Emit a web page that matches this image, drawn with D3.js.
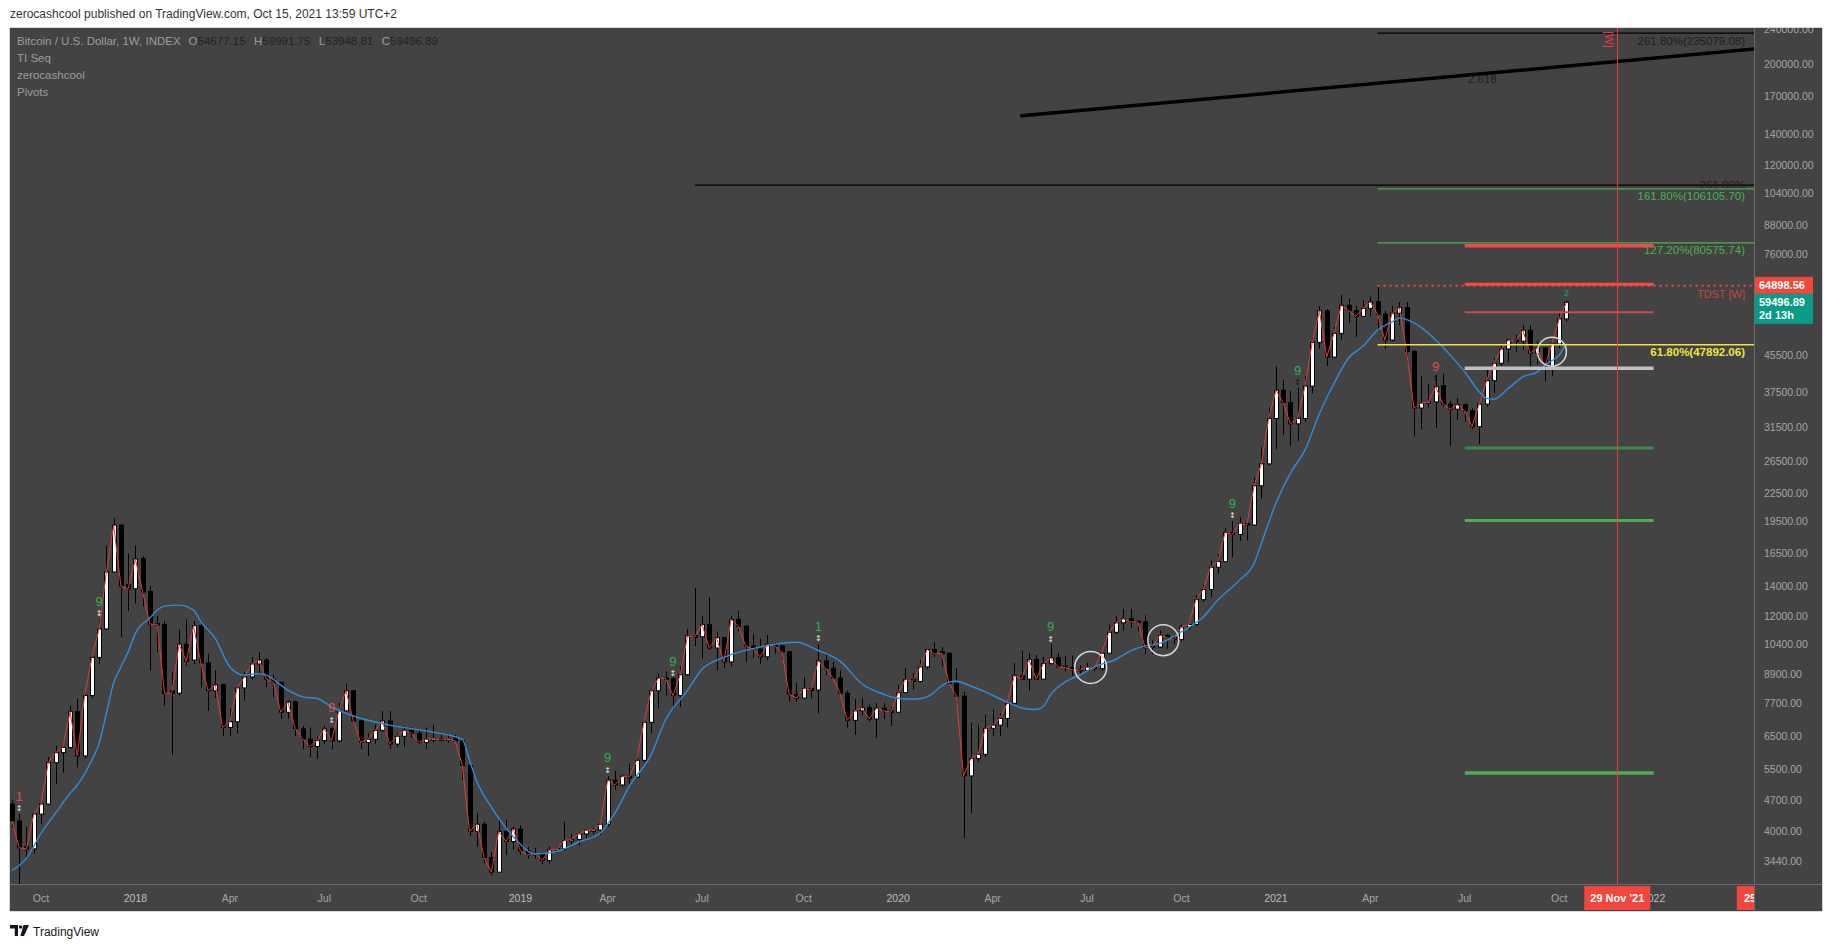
<!DOCTYPE html>
<html><head><meta charset="utf-8">
<script src="https://cdn.jsdelivr.net/npm/d3@7"></script>
<style>html,body{margin:0;padding:0;background:#fff;} svg{display:block;font-family:"Liberation Sans",Arial,sans-serif;}</style>
</head><body><svg id="c" width="1834" height="948"></svg>
<script>
// ---------------- DATA ----------------
const firstBar = "2017-09-04";           // first weekly bar (Monday)
// weekly [open, high, low, close]
const bars2017 = [
[4600,4700,4080,4220],[4220,4380,2980,3680],[3700,4100,3500,3660],[3660,4400,3580,4370],
[4370,4650,4150,4600],[4600,5850,4580,5680],[5680,6200,5100,5980],[5980,6200,5400,6140],
[6140,7600,6100,7370],[7370,7880,5550,5880],[5880,8100,5800,8000],[8000,9800,7900,9720],
[9720,11800,9400,11240],[11240,17200,11200,15030],[15030,19800,15000,19090],[19090,19200,10800,13990],
[14100,16500,12300,13800]];
const bars2018 = [
[13800,17200,12800,16060],[16100,16300,12600,13570],[13600,14000,9100,11520],[11550,12000,10000,11500],
[11500,11700,7600,8100],[8200,9000,5900,8100],[8100,11200,8000,10400],[10400,11800,9300,9540],
[9590,11700,9400,11430],[11430,11700,8320,9450],[9450,9900,7400,8200],[8200,9100,7900,8450],
[8470,8500,6500,6800],[6800,7500,6500,7000],[7000,8400,6600,8320],[8320,9000,7800,8800],
[8800,9750,8650,9400],[9400,9990,8950,9590],[9590,9700,8350,8700],[8700,8900,7950,8560],
[8550,8600,7100,7350],[7350,7800,7100,7740],[7750,7800,6500,6760],[6750,6850,6100,6420],
[6420,6800,5850,6170],[6170,6500,5800,6360],[6360,6850,6250,6750],[6750,6800,6100,6350],
[6350,7700,6300,7400],[7400,8500,7350,8200],[8200,8250,6950,7030],[7030,7150,6100,6300],
[6300,6600,5880,6400],[6400,6900,6250,6700],[6700,7400,6650,7030],[7030,7400,6100,6250],
[6250,6600,6150,6500],[6500,6850,6150,6700],[6700,6800,6450,6600],[6600,6700,6250,6300],
[6300,6800,6100,6400],[6400,6900,6300,6420],[6420,6560,6350,6400],[6400,6550,6280,6420],
[6420,6550,6300,6350],[6350,6400,5200,5600],[5600,5650,3900,4000],[4000,4400,3700,4150],
[4150,4200,3400,3500],[3500,3600,3200,3250],[3250,4250,3250,4000],[4000,4250,3550,3800],
[3800,4100,3650,4050]];
const bars2019 = [
[4050,4130,3550,3620],[3620,3700,3480,3550],[3550,3680,3480,3580],[3580,3600,3380,3450],
[3450,3700,3400,3640],[3640,3700,3580,3660],[3660,4200,3620,3820],[3820,3950,3700,3840],
[3840,3980,3730,3950],[3950,4040,3850,4020],[4020,4080,3950,4030],[4030,4200,3930,4150],
[4150,5300,4100,5200],[5200,5450,4950,5070],[5070,5350,5030,5300],[5300,5650,5050,5280],
[5280,5900,5250,5750],[5750,7050,5700,6980],[6980,8300,6600,8200],[8200,8950,7500,8750],
[8750,9050,8000,8720],[8720,8800,7450,8000],[8000,9300,7550,8900],[8900,11250,8850,10850],
[10850,13850,10300,10800],[10800,12000,9650,11500],[11500,13200,10100,10200],[10200,11100,9100,10750],
[10750,10800,9200,9500],[9500,12000,9300,11800],[11800,12300,11100,11400],[11400,11450,9500,10300],
[10300,10950,9700,10150],[10150,10700,9400,9750],[9750,10900,9600,10400],[10400,10450,9900,10300],
[10300,10350,9600,10000],[10000,10050,7750,8050],[8050,8550,7750,7900],[7900,8800,7850,8300],
[8300,8420,7900,8230],[8230,10400,7300,9550],[9550,9900,8900,9200],[9200,9500,8700,8750],
[8750,9100,8000,8100],[8100,8200,6800,7050],[7050,7850,6550,7400],[7400,7900,7250,7520],
[7520,7650,7000,7100],[7100,7700,6450,7500],[7500,7700,7100,7400],[7400,7550,6850,7350]];
const bars2020 = [
[7350,8450,7350,8120],[8120,9200,8100,8690],[8690,8980,8250,8600],[8600,9600,8550,9260],
[9260,9950,9150,10120],[10120,10500,9750,9900],[10000,10250,9300,9930],[9930,9950,8450,8520],
[8520,9200,7650,7980],[7980,8150,3860,5310],[5310,6950,4390,5800],[5800,6900,5700,5930],
[5930,7250,5850,6770],[6770,7450,6500,6880],[6880,7300,6500,7120],[7120,7750,6800,7690],
[7690,9450,7650,8860],[8860,10050,8650,8700],[8700,9950,8200,9620],[9620,9850,8650,8700],
[8700,9750,8650,9420],[9420,10400,9350,9700],[9700,9950,9200,9260],[9300,9800,9050,9230],
[9230,9800,8850,9120],[9140,9350,8950,9100],[9100,9450,9050,9250],[9250,9300,9050,9180],
[9180,9850,9100,9930],[9930,11500,9900,11050],[11050,12000,10950,11600],[11600,12450,11150,11840],
[11840,12450,11300,11650],[11700,11750,11100,11650],[11650,12050,9900,10210],[10300,10600,9900,10250],
[10250,11150,10200,10880],[10880,10950,10150,10750],[10750,10950,10400,10650],[10650,11500,10550,11350],
[11350,11750,11200,11500],[11500,13350,11400,13050],[13050,14100,12900,13750],[13750,15950,13200,15400],
[15400,16500,14900,15850],[15850,18800,15800,18380],[18380,19500,16200,18200],[18200,19900,17600,19260],
[19260,19400,17650,19100],[19100,24300,19000,23340],[23340,28400,21800,26100],[26100,34800,25900,32900]];
const bars2021 = [
[32900,42900,28100,38000],[38000,40100,30300,35700],[35700,37850,28600,32000],[32000,38500,29300,32900],
[32900,40900,32300,38800],[38800,49700,37400,48500],[48500,58350,47000,57000],[57000,57500,43000,45000],
[45000,52600,44900,50800],[50800,61800,49200,58600],[58600,60600,53500,57000],[57000,58400,49900,55400],
[55400,60200,55300,57700],[57700,61300,55500,59600],[59700,64898.56,51300,56000],[56000,57000,47000,49100],
[49100,58500,48800,56300],[56300,59600,53000,57900],[57900,59600,43900,46300],[46300,46700,30000,34700],
[34700,40800,31200,35600],[35600,39300,34800,35800],[35800,41100,31300,38700],[38900,41300,34900,35400],
[35400,36000,28600,34500],[34500,36500,32700,35300],[35300,35500,32300,34200],[34200,34650,31100,31550],
[31550,35600,28900,35400],[35400,42400,34900,39900],[39900,44800,37500,43600],[43600,48100,43000,46900],
[46900,49400,43900,49100],[49100,50500,46200,48800],[48800,52900,46600,51600],[51600,52900,42800,45900],
[45900,48800,43400,47100],[47100,47300,39700,42900],[42900,48400,40800,48100],[48100,56500,47100,54677.15],
[54677.15,59991.75,53948.81,59496.89]];

// blue moving average: [bar index, value]
const maPoints = [[0,3275],[2,3490],[4,3960],[6,4390],[8,4860],[9,5070],[11,5760],[12,6270],[13,7300],[14,8540],
[15,9260],[16,10000],[17,10990],[19,11900],[20,12370],[21,12630],[23,12690],[25,12370],[26,11660],[28,10700],
[30,9260],[32,8880],[34,8950],[35,8880],[38,8220],[40,7950],[42,7880],[44,7550],[52,6880],[57,6680],[62,6400],
[63,5750],[64,5160],[66,4530],[69,3900],[72,3570],[75,3610],[78,3790],[81,3970],[83,4390],[85,5040],[88,5920],
[90,7080],[93,8220],[95,9150],[98,9720],[103,10250],[108,10500],[111,10070],[114,9540],[117,8500],[120,8055],
[121,7950],[124,7850],[126,7950],[128,8400],[129,8580],[130,8610],[132,8400],[134,8150],[137,7740],[139,7510],
[141,7450],[142,7580],[143,8040],[145,8580],[147,8880],[149,9260],[152,9630],[154,10050],[156,10310],[158,10440],
[161,11080],[164,11940],[166,13020],[169,14420],[171,15700],[172,17390],[174,21330],[176,24900],[178,27990],
[180,33750],[182,39330],[184,44800],[186,47590],[188,51630],[190,53860],[191,54970],[192,54500],[194,52350],
[196,49070],[198,45450],[200,41740],[202,37690],[203,36440],[204,36310],[206,38350],[208,40690],[210,41740],
[211,43190],[213,45450],[214,48250]];

// TD sequential labels: [bar index, text, colour kind, label price]
const tdLabels = [[1,"1","red",4790],[12,"9","green",12960],[44,"9","red",7520],[82,"9","green",5820],
[91,"9","green",9535],[111,"1","green",11400],[143,"9","green",11360],[168,"9","green",21330],
[177,"9","green",42100],[196,"9","red",42850]];
const tdSmall = [[214,"2",62340]];

// price axis ticks
const priceTicks = [240000,200000,170000,140000,120000,104000,88000,76000,45500,37500,31500,
26500,22500,19500,16500,14000,12000,10400,8900,7700,6500,5500,4700,4000,3440];
// time axis ticks
const timeTicks = [["2017-10-02","Oct"],["2018-01-01","2018"],["2018-04-02","Apr"],["2018-07-02","Jul"],
["2018-10-01","Oct"],["2019-01-07","2019"],["2019-04-01","Apr"],["2019-07-01","Jul"],["2019-10-07","Oct"],
["2020-01-06","2020"],["2020-04-06","Apr"],["2020-07-06","Jul"],["2020-10-05","Oct"],["2021-01-04","2021"],
["2021-04-05","Apr"],["2021-07-05","Jul"],["2021-10-04","Oct"],["2022-01-03","2022"]];

// drawings
const fibStart = "2021-04-12";
const fibLevels = [["261.80%(235079.08)",235079.08,"#1e1e1e"],["161.80%(106105.70)",106105.70,"#4caf50"],
["127.20%(80575.74)",80575.74,"#4caf50"],["61.80%(47892.06)",47892.06,"#f0e442"]];
const tdst = 64898.56;
const oldFib = ["2019-06-24",108200];
const trendLine = [["2020-05-04",154200],["2021-11-29",203300]];
const trendLabel = ["2021-07-22",186000,"2.618"];
const zoneStart = "2021-07-05", zoneEnd = "2022-01-03";
// [price, colour, width]
const zoneLines = [[79400,"#f44a4a",3.5],[tdst,"#f44a4a",3],[56600,"#c84a4a",2],[42500,"#bfc0c6",3.5],
[28300,"#3c8a40",3],[19550,"#4caf50",3],[5390,"#4caf50",3.5]];
const circles = [["2020-07-09T12:00:00Z",9235,16],["2020-09-17T12:00:00Z",10615,15.5],["2021-09-27",46230,14.5]];
const vLineDate = "2021-11-29";
const vLineLabel = "29 Nov '21";
const vLine2Date = "2022-04-25";
const vLine2Label = "25 Apr '22";
const lastPrice = 59496.89, lastTime = "2d 13h";

// ---------------- DRAW ----------------
const svg = d3.select('#c');
const L=10, R=1754, T=28, B=884;
const allBars = [].concat(bars2017,bars2018,bars2019,bars2020,bars2021);
const t0 = Date.parse(firstBar+"T00:00:00Z");
const bars = allBars.map((d,i)=>({date:new Date(t0+i*7*864e5),o:d[0],h:d[1],l:d[2],c:d[3]}));
const D = s => new Date(s.length>10 ? s : s+"T00:00:00Z");

const x = d3.scaleUtc().domain([D("2017-10-02"),D("2021-10-11")]).range([41, 41+210*7.264]);
const y = d3.scaleLog().domain([3440,240000]).range([861,29]);

svg.append('rect').attr('width',1834).attr('height',948).attr('fill','#fff');
svg.append('text').attr('x',10).attr('y',18).attr('font-size',12).attr('fill','#333')
  .text('zerocashcool published on TradingView.com, Oct 15, 2021 13:59 UTC+2');
// chart frame
svg.append('rect').attr('x',9.5).attr('y',27.5).attr('width',1813).attr('height',884)
  .attr('fill','#434343').attr('stroke','#d6d7db');
svg.append('line').attr('x1',1754.5).attr('x2',1754.5).attr('y1',28).attr('y2',911).attr('stroke','#6a6a6a');
svg.append('line').attr('x1',10).attr('x2',1822).attr('y1',884.5).attr('y2',884.5).attr('stroke','#6a6a6a');

const defs = svg.append('defs');
defs.append('clipPath').attr('id','pane').append('rect').attr('x',L).attr('y',T).attr('width',R-L).attr('height',B-T);
defs.append('clipPath').attr('id','paxis').append('rect').attr('x',1755).attr('y',T).attr('width',67).attr('height',B-T);
defs.append('clipPath').attr('id','taxis').append('rect').attr('x',L).attr('y',885).attr('width',R-L).attr('height',26);

const pane = svg.append('g').attr('clip-path','url(#pane)');

// candles
const cg = pane.append('g');
bars.forEach(b=>{
  const cx = Math.round(x(b.date))+0.5;
  cg.append('line').attr('x1',cx).attr('x2',cx).attr('y1',y(b.h)).attr('y2',y(b.l)).attr('stroke','#000').attr('stroke-width',1);
  const up = b.c>=b.o;
  const y1 = y(Math.max(b.o,b.c)), y2 = y(Math.min(b.o,b.c));
  const h = Math.max(1.5, y2-y1);
  cg.append('rect').attr('x',cx-2).attr('y',y1).attr('width',4).attr('height',h)
    .attr('fill',up?'#fff':'#000').attr('stroke','#000').attr('stroke-width',1);
});

// red short line through closes
pane.append('path').datum(bars).attr('fill','none').attr('stroke','#e53935').attr('stroke-width',1)
  .attr('d',d3.line().x(d=>x(d.date)).y(d=>y(d.c)));
// blue MA
pane.append('path').datum(maPoints).attr('fill','none').attr('stroke','#2e8ddb').attr('stroke-width',1.4)
  .attr('d',d3.line().curve(d3.curveMonotoneX).x(d=>x(bars[d[0]].date)).y(d=>y(d[1])));

// circles
circles.forEach(c=>{
  pane.append('circle').attr('cx',x(D(c[0]))).attr('cy',y(c[1])).attr('r',c[2])
    .attr('fill','none').attr('stroke','#d8d8d8').attr('stroke-width',1.5);
});

// old fib line
pane.append('line').attr('x1',x(D(oldFib[0]))).attr('x2',R).attr('y1',y(oldFib[1])).attr('y2',y(oldFib[1]))
  .attr('stroke','#000').attr('stroke-width',1.2);
pane.append('text').attr('x',R-9).attr('y',y(oldFib[1])).attr('dy','0.33em').attr('text-anchor','end')
  .attr('font-size',11.5).attr('fill','#1e1e1e').text('261.80%');

// fib levels
fibLevels.forEach(f=>{
  pane.append('line').attr('x1',x(D(fibStart))).attr('x2',R).attr('y1',y(f[1])).attr('y2',y(f[1]))
    .attr('stroke',f[2]==="#1e1e1e"?'#000':f[2]).attr('stroke-width',f[2]==="#f0e442"?1.5:1.2);
  pane.append('text').attr('x',R-9).attr('y',y(f[1])+7.5).attr('dy','0.35em').attr('text-anchor','end')
    .attr('font-size',11.5).attr('font-weight',f[2]==="#f0e442"?'bold':'normal').attr('fill',f[2]).text(f[0]);
});
// TDST dotted
pane.append('line').attr('x1',x(D(fibStart))).attr('x2',R).attr('y1',y(tdst)+0.5).attr('y2',y(tdst)+0.5)
  .attr('stroke','#f44a4a').attr('stroke-width',2).attr('stroke-dasharray','2,4');
pane.append('text').attr('x',R-9).attr('y',y(tdst)+9).attr('dy','0.35em').attr('text-anchor','end')
  .attr('font-size',11).attr('fill','#c9443f').text('TDST [W]');

// zone lines
zoneLines.forEach(z=>{
  const off = z[0]===tdst?1:0;
  pane.append('line').attr('x1',x(D(zoneStart))).attr('x2',x(D(zoneEnd))).attr('y1',y(z[0])-off).attr('y2',y(z[0])-off)
    .attr('stroke',z[1]).attr('stroke-width',z[2]);
});

// trend line extended to right
{
  const xa=x(D(trendLine[0][0])), ya=y(trendLine[0][1]), xb=x(D(trendLine[1][0])), yb=y(trendLine[1][1]);
  const s=(yb-ya)/(xb-xa);
  pane.append('line').attr('x1',xa).attr('y1',ya).attr('x2',R).attr('y2',ya+s*(R-xa))
    .attr('stroke','#000').attr('stroke-width',3.5).attr('stroke-linecap','round');
  pane.append('text').attr('x',x(D(trendLabel[0]))).attr('y',y(trendLabel[1])).attr('dy','0.35em')
    .attr('text-anchor','middle').attr('font-size',11.5).attr('fill','#1e1e1e').text(trendLabel[2]);
}

// vertical line
const vx = Math.round(x(D(vLineDate)))+0.5;
pane.append('line').attr('x1',vx).attr('x2',vx).attr('y1',T).attr('y2',B).attr('stroke','#f23645').attr('stroke-width',1);
pane.append('text').attr('transform',`translate(${vx-9},39.5) rotate(90)`).attr('text-anchor','middle').attr('dy','0.35em')
  .attr('font-size',11).attr('fill','#f23645').text('[W]');

// TD labels
tdLabels.forEach(t=>{
  const cx = x(bars[t[0]].date), cy = y(t[3]);
  pane.append('text').attr('x',cx).attr('y',cy).attr('dy','0.35em').attr('text-anchor','middle')
    .attr('font-size',13).attr('fill',t[2]==='green'?'#2cb24f':'#e04a4a').text(t[1]);
  pane.append('text').attr('x',cx).attr('y',cy+12).attr('dy','0.35em').attr('text-anchor','middle')
    .attr('font-family','DejaVu Sans').attr('font-size',8).attr('fill',t[0]>170?'#111':'#e6e6e6').text('↕');
});
tdSmall.forEach(t=>{
  pane.append('text').attr('x',x(bars[t[0]].date)).attr('y',y(t[2])).attr('dy','0.35em').attr('text-anchor','middle')
    .attr('font-size',9).attr('font-weight','bold').attr('fill','#2e8b57').text(t[1]);
});

// legend
const lg = svg.append('g');
const title = lg.append('text').attr('x',17).attr('y',45).attr('font-size',11.5).attr('fill','#9c9c9c')
  .text('Bitcoin / U.S. Dollar, 1W, INDEX');
const last = bars[bars.length-1];
const groups = [["O",last.o],["H",last.h],["L",last.l],["C",last.c]].map(v=>{
  const t = lg.append('text').attr('y',45).attr('font-size',11.5);
  t.append('tspan').attr('fill','#9c9c9c').text(v[0]);
  t.append('tspan').attr('fill','#222').text(d3.format('.2f')(v[1]));
  return t;
});
{
  const start = 17 + title.node().getComputedTextLength() + 8;
  const widths = groups.map(g=>g.node().getComputedTextLength());
  const total = d3.sum(widths);
  const gap = Math.max(5,(438 - start - total)/3);
  let cx = start;
  groups.forEach((g,i)=>{ g.attr('x',cx); cx += widths[i] + gap; });
}
['TI Seq','zerocashcool','Pivots'].forEach((s,i)=>lg.append('text').attr('x',17).attr('y',62+i*17)
  .attr('font-size',11.5).attr('fill','#9c9c9c').text(s));

// price axis
const pa = svg.append('g').attr('clip-path','url(#paxis)').attr('font-size',10.5).attr('fill','#a5a5a5');
priceTicks.forEach(v=>{
  pa.append('text').attr('x',1764).attr('y',y(v)).attr('dy','0.35em').text(d3.format('.2f')(v));
});
// tdst price label
pa.append('rect').attr('x',1755).attr('y',y(tdst)-8.5).attr('width',58).attr('height',17).attr('fill','#f2473c');
pa.append('text').attr('x',1759).attr('y',y(tdst)).attr('dy','0.35em').attr('fill','#fff').attr('font-weight','bold').attr('font-size',11).text(d3.format('.2f')(tdst));
pa.append('rect').attr('x',1755).attr('y',y(lastPrice)-8.5).attr('width',58).attr('height',30).attr('fill','#089b86');
pa.append('text').attr('x',1759).attr('y',y(lastPrice)).attr('dy','0.35em').attr('fill','#fff').attr('font-weight','bold').attr('font-size',11).text(d3.format('.2f')(lastPrice));
pa.append('text').attr('x',1759).attr('y',y(lastPrice)+12.5).attr('dy','0.35em').attr('fill','#fff').attr('font-weight','bold').attr('font-size',11).text(lastTime);

// time axis
const ta = svg.append('g').attr('clip-path','url(#taxis)').attr('font-size',10.5);
timeTicks.forEach(t=>{
  ta.append('text').attr('x',x(D(t[0]))).attr('y',898).attr('dy','0.35em').attr('text-anchor','middle')
    .attr('fill',/^\d/.test(t[1])?'#bdbdbd':'#a5a5a5').text(t[1]);
});
[[vLineDate,vLineLabel],[vLine2Date,vLine2Label]].forEach(v=>{
  const cx = x(D(v[0]));
  ta.append('rect').attr('x',cx-33).attr('y',886).attr('width',66).attr('height',24).attr('fill','#f2473c');
  ta.append('text').attr('x',cx).attr('y',898).attr('dy','0.35em').attr('text-anchor','middle').attr('fill','#fff')
    .attr('font-weight','bold').attr('font-size',11).text(v[1]);
});

// footer logo
const fg = svg.append('g');
fg.append('path').attr('d','M10 925 h8 v11 h-3.2 v-7.6 h-4.8 z').attr('fill','#131722');
fg.append('circle').attr('cx',20.6).attr('cy',927).attr('r',1.8).attr('fill','#131722');
fg.append('path').attr('d','M23.5 925 h5.5 l-5 11 h-3.6 z').attr('fill','#131722');
fg.append('text').attr('x',33).attr('y',936).attr('font-size',12).attr('fill','#131722').text('TradingView');
</script></body></html>
